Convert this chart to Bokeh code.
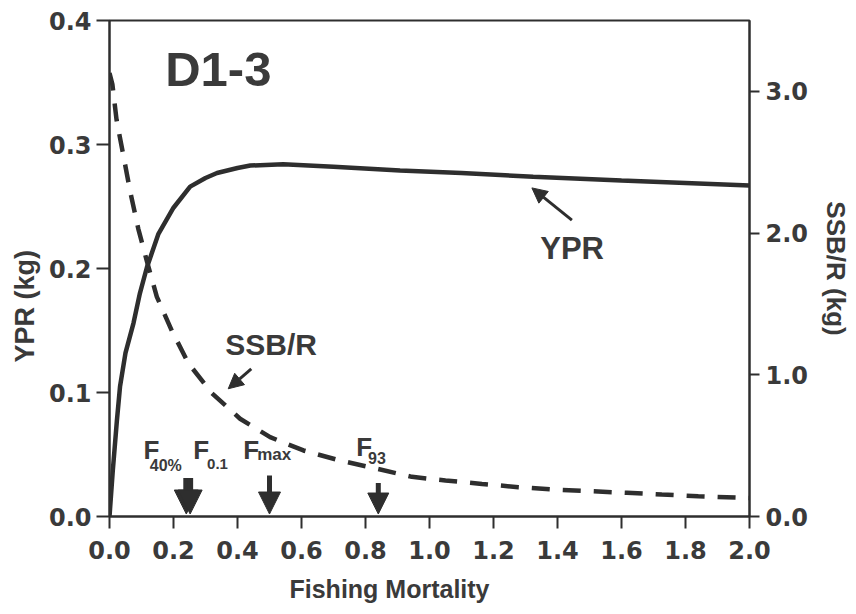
from bokeh.plotting import figure
from bokeh.models import (Range1d, LinearAxis, FixedTicker, PrintfTickFormatter,
                          Label, Arrow, NormalHead, Title)
from bokeh.embed import file_html
from bokeh.resources import INLINE

# ---- data ----
F_ypr = [0, 0.01, 0.023, 0.033, 0.05, 0.075, 0.095, 0.117, 0.153, 0.2, 0.252, 0.3,
         0.336, 0.4, 0.44, 0.543, 0.7, 0.908, 1.1, 1.324, 1.6, 1.8, 2.0]
ypr = [0, 0.036, 0.077, 0.105, 0.132, 0.156, 0.180, 0.201, 0.228, 0.249, 0.266, 0.273,
       0.277, 0.281, 0.283, 0.284, 0.282, 0.279, 0.277, 0.274, 0.271, 0.269, 0.267]

F_ssb = [0, 0.009, 0.022, 0.044, 0.065, 0.09, 0.117, 0.148, 0.195, 0.247, 0.32, 0.408,
         0.502, 0.606, 0.72, 0.836, 0.945, 1.05, 1.164, 1.278, 1.39, 1.5, 1.617, 1.726,
         1.84, 2.0]
ssb = [3.13, 3.05, 2.80, 2.54, 2.29, 2.03, 1.80, 1.55, 1.31, 1.08, 0.87, 0.69,
       0.56, 0.466, 0.395, 0.337, 0.28, 0.254, 0.23, 0.207, 0.19, 0.179, 0.167, 0.155,
       0.143, 0.13]

ref_names = ["F40%", "F0.1", "Fmax", "F93"]
ref_F = [0.24, 0.252, 0.50, 0.84]

x_ticks = [0.0, 0.2, 0.4, 0.6, 0.8, 1.0, 1.2, 1.4, 1.6, 1.8, 2.0]
ypr_ticks = [0.0, 0.1, 0.2, 0.3, 0.4]
ssb_ticks = [0.0, 1.0, 2.0, 3.0]

INK = "#2e2e2e"
TXT = "#3a3a3a"
TICKFONT = "DejaVu Sans"
LABFONT = "Liberation Sans"

p = figure(width=856, height=614, output_backend="svg", toolbar_location=None,
           x_range=Range1d(0, 2.0), y_range=Range1d(0, 0.4),
           min_border_left=109, min_border_right=107, min_border_top=20,
           min_border_bottom=98)
p.extra_y_ranges = {"ssb": Range1d(0, 3.5)}
p.xgrid.visible = False
p.ygrid.visible = False
p.outline_line_color = INK
p.outline_line_width = 2
p.outline_line_alpha = 1.0
p.background_fill_color = "white"
p.border_fill_color = "white"

def style_axis(ax, ticks, tick_out, standoff, label_standoff):
    ax.ticker = FixedTicker(ticks=ticks)
    ax.formatter = PrintfTickFormatter(format="%.1f")
    ax.axis_line_color = INK
    ax.axis_line_width = 2
    ax.major_tick_line_color = INK
    ax.major_tick_line_width = 2
    ax.major_tick_out = tick_out
    ax.major_tick_in = 0
    ax.minor_tick_line_color = None
    ax.major_label_text_font = TICKFONT
    ax.major_label_text_font_style = "bold"
    ax.major_label_text_font_size = "24px"
    ax.major_label_text_color = TXT
    ax.major_label_standoff = standoff
    ax.axis_label_text_font = LABFONT
    ax.axis_label_text_font_style = "bold"
    ax.axis_label_text_font_size = "26px"
    ax.axis_label_text_color = TXT
    ax.axis_label_standoff = label_standoff

style_axis(p.xaxis[0], x_ticks, 12, 12, 20)
style_axis(p.yaxis[0], ypr_ticks, 13, 5, 12)

rax = LinearAxis(y_range_name="ssb")
style_axis(rax, ssb_ticks, 10, 6, 10)
rax.axis_label = "SSB/R (kg)"
p.add_layout(rax, "right")

# axis titles placed off-centre as in the reference
p.add_layout(Title(text="Fishing Mortality", align="left", offset=180, standoff=23,
                   text_font=LABFONT, text_font_style="bold", text_font_size="25px",
                   text_color=TXT), "below")
p.add_layout(Title(text="YPR (kg)", align="left", offset=154, standoff=12,
                   text_font=LABFONT, text_font_style="bold", text_font_size="27px",
                   text_color=TXT), "left")

# curves
p.line(F_ypr, ypr, line_color=INK, line_width=4.5)
p.line(F_ssb, ssb, y_range_name="ssb", line_color=INK, line_width=4.5,
       line_dash="18 13")

# reference-point arrows
arrow_top = {"F40%": 0.031, "F0.1": 0.031, "Fmax": 0.033, "F93": 0.027}
arrow_w = {"F40%": 6, "F0.1": 6, "Fmax": 5, "F93": 5}
arrow_head = {"F40%": 24, "F0.1": 24, "Fmax": 22, "F93": 21}
for name, f in zip(ref_names, ref_F):
    p.add_layout(Arrow(x_start=f, y_start=arrow_top[name], x_end=f, y_end=0.002,
                       line_color=INK, line_width=arrow_w[name],
                       end=NormalHead(size=arrow_head[name], fill_color=INK,
                                      line_color=INK, line_width=1)))

def lab(text, x, y, size):
    p.add_layout(Label(x=x, y=y, text=text, text_font=LABFONT, text_font_style="bold",
                       text_font_size=size, text_color=TXT, text_align="left",
                       text_baseline="alphabetic"))

# reference-point labels
lab("F", 0.106, 0.054, "26px")
lab("40%", 0.126, 0.041, "16px")
lab("F", 0.262, 0.054, "26px")
lab("0.1", 0.305, 0.042, "15px")
lab("F", 0.418, 0.054, "26px")
lab("max", 0.4616, 0.050, "17px")
lab("F", 0.771, 0.056, "26px")
lab("93", 0.808, 0.047, "16px")

# panel labels
lab("D1-3", 0.174, 0.361, "49px")
lab("YPR", 1.346, 0.216, "31px")
lab("SSB/R", 0.362, 0.139, "30px")

p.add_layout(Arrow(x_start=0.443, y_start=0.119, x_end=0.371, y_end=0.103,
                   line_color=INK, line_width=3,
                   end=NormalHead(size=15, fill_color=INK, line_color=INK, line_width=1)))
p.add_layout(Arrow(x_start=1.445, y_start=0.239, x_end=1.32, y_end=0.265,
                   line_color=INK, line_width=3,
                   end=NormalHead(size=15, fill_color=INK, line_color=INK, line_width=1)))

open("out.html", "w").write(file_html(p, INLINE))
